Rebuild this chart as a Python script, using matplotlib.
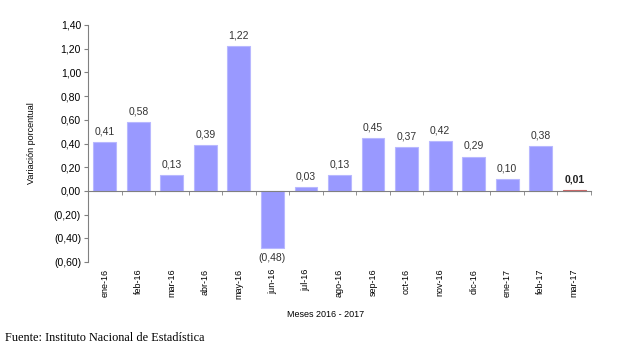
import numpy as np
import matplotlib.pyplot as plt
from matplotlib.ticker import FuncFormatter, FixedLocator

# %%
# monthly percentage variation, Jan 2016 - Mar 2017
meses = ["ene-16", "feb-16", "mar-16", "abr-16", "may-16", "jun-16", "jul-16",
         "ago-16", "sep-16", "oct-16", "nov-16", "dic-16", "ene-17", "feb-17", "mar-17"]
variacion = [0.41, 0.58, 0.13, 0.39, 1.22, -0.48, 0.03, 0.13, 0.45, 0.37,
             0.42, 0.29, 0.10, 0.38, 0.01]

plt.rcParams["font.family"] = ["Liberation Sans", "DejaVu Sans"]


def fmt(v):
    s = f"{abs(v):.2f}".replace(".", ",")
    return f"({s})" if v < 0 else s


# %%
fig = plt.figure(figsize=(6.21, 3.5), dpi=100)
ax = fig.add_axes([0.1417, 0.2514, 0.81, 0.6772])

x = np.arange(len(meses))
colores = ["#9999ff"] * (len(meses) - 1) + ["#993333"]
bordes = ["#b8b8ff"] * (len(meses) - 1) + ["#cc6666"]
ax.bar(x, variacion, width=0.68, color=colores, edgecolor=bordes, linewidth=0.8, zorder=2)

for i, v in enumerate(variacion):
    ultimo = i == len(meses) - 1
    ax.annotate(fmt(v), (i, v), xytext=(0, 4 if v >= 0 else -4), textcoords="offset points",
                ha="center", va="bottom" if v >= 0 else "top", fontsize=7.5,
                color="#222222" if ultimo else "#333333",
                fontweight="bold" if ultimo else "normal")

ax.set_xlim(-0.5, len(meses) - 0.5)
ax.set_ylim(-0.6, 1.4)
ax.set_yticks(np.arange(-0.6, 1.41, 0.2))
ax.yaxis.set_major_formatter(FuncFormatter(lambda v, p: fmt(round(v, 2))))

for s in ["top", "right"]:
    ax.spines[s].set_visible(False)
ax.spines["bottom"].set_position(("data", 0))
ax.spines["left"].set_color("#808080")
ax.spines["bottom"].set_color("#808080")

# labels at the bottom, small ticks between months on the zero line
ax.set_xticks(x)
ax.set_xticklabels(meses, rotation=90, fontsize=6.5)
ax.xaxis.set_minor_locator(FixedLocator(x + 0.5))
ax.tick_params(axis="x", which="major", length=0, pad=56)
ax.tick_params(axis="x", which="minor", length=3, direction="out", color="#808080")
ax.tick_params(axis="y", length=3, color="#808080", labelsize=7.5, pad=2)

ax.set_ylabel("Variación porcentual", fontsize=6.5)
ax.yaxis.set_label_coords(-0.103, 0.5)
ax.set_xlabel("Meses 2016 - 2017", fontsize=6.5)
ax.xaxis.set_label_coords(0.473, -0.22)
ax.xaxis.label.set_va("center")

fig.text(0.008, 0.034, "Fuente: Instituto Nacional de Estadística",
         family=["Liberation Serif", "DejaVu Serif"], fontsize=8.8, va="center")

fig.savefig("out.png", dpi=100)
